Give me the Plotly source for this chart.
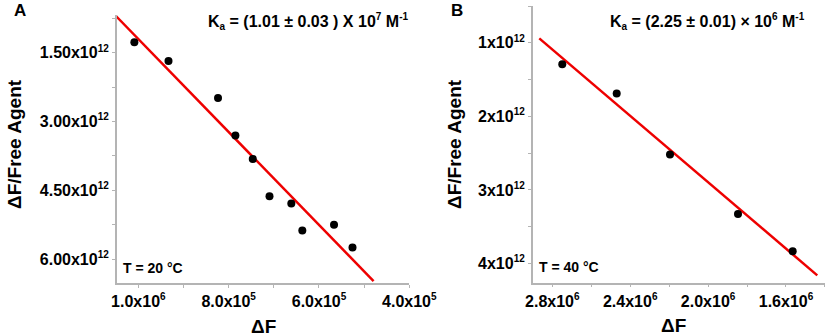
import plotly.graph_objects as go

W, H = 829, 336

# Panel A data
a_x = [1.0089e6, 0.9333e6, 0.8236e6, 0.7851e6, 0.7467e6, 0.7096e6, 0.6613e6, 0.6369e6, 0.5667e6, 0.5258e6]
a_y = [1.274e12, 1.680e12, 2.491e12, 3.304e12, 3.817e12, 4.630e12, 4.789e12, 5.376e12, 5.252e12, 5.746e12]
a_fit_x = [1.0496e6, 0.4791e6]
a_fit_y = [0.702e12, 6.478e12]
a_xticks = [1.0e6, 8.0e5, 6.0e5, 4.0e5]
a_xbase = ["1.0x10", "8.0x10", "6.0x10", "4.0x10"]
a_xexp = ["6", "5", "5", "5"]
a_yticks = [1.5e12, 3.0e12, 4.5e12, 6.0e12]
a_ybase = ["1.50x10", "3.00x10", "4.50x10", "6.00x10"]
a_yexp = ["12", "12", "12", "12"]

# Panel B data
b_x = [2.7487e6, 2.4693e6, 2.1956e6, 1.8465e6, 1.5656e6]
b_y = [1.290e12, 1.688e12, 2.518e12, 3.327e12, 3.834e12]
b_fit_x = [2.8668e6, 1.4393e6]
b_fit_y = [0.94e12, 4.16e12]
b_xticks = [2.8e6, 2.4e6, 2.0e6, 1.6e6]
b_xbase = ["2.8x10", "2.4x10", "2.0x10", "1.6x10"]
b_xexp = ["6", "6", "6", "6"]
b_yticks = [1e12, 2e12, 3e12, 4e12]
b_ybase = ["1x10", "2x10", "3x10", "4x10"]
b_yexp = ["12", "12", "12", "12"]

FONT = "Liberation Sans, Arial, sans-serif"
AXC = "#b4b4b4"


def sup(t, size=10):
    return f"<sup><span style='font-size:{size}px'>{t}</span></sup>"


def sub(t, size=10):
    return f"<sub><span style='font-size:{size}px'>{t}</span></sub>"


def labels(bases, exps):
    return [b + sup(e) for b, e in zip(bases, exps)]


fig = go.Figure()
fig.add_trace(go.Scatter(x=a_fit_x, y=a_fit_y, mode="lines", line=dict(color="#ee0000", width=2.5),
                         xaxis="x", yaxis="y", showlegend=False))
fig.add_trace(go.Scatter(x=a_x, y=a_y, mode="markers", marker=dict(color="black", size=8),
                         xaxis="x", yaxis="y", showlegend=False))
fig.add_trace(go.Scatter(x=b_fit_x, y=b_fit_y, mode="lines", line=dict(color="#ee0000", width=2.5),
                         xaxis="x2", yaxis="y2", showlegend=False))
fig.add_trace(go.Scatter(x=b_x, y=b_y, mode="markers", marker=dict(color="black", size=8),
                         xaxis="x2", yaxis="y2", showlegend=False))


def px(x):
    return x / W


def py(y):
    return 1 - y / H


tickfont = dict(family=FONT, size=16, color="black", weight="bold")


def axis_common():
    return dict(showline=True, linecolor=AXC, linewidth=1.5, ticks="outside", ticklen=3,
                tickcolor=AXC, tickwidth=1, showgrid=False, zeroline=False, automargin=False,
                tickmode="array", tickfont=tickfont, mirror=False)


fig.update_layout(
    width=W, height=H, margin=dict(l=0, r=0, t=0, b=0),
    plot_bgcolor="white", paper_bgcolor="white",
    xaxis=dict(**axis_common(), domain=[px(116.7), px(409.3)], range=[1.048e6, 4.0e5],
               tickvals=a_xticks, ticktext=labels(a_xbase, a_xexp), anchor="y",
               minor=dict(ticks="outside", ticklen=3, tickcolor=AXC, dtick=1e5, tick0=0)),
    yaxis=dict(**axis_common(), domain=[py(283), py(15)], range=[6.52e12, 0.68e12],
               tickvals=a_yticks, ticktext=labels(a_ybase, a_yexp), anchor="x",
               minor=dict(ticks="outside", ticklen=3, tickcolor=AXC, dtick=0.75e12, tick0=0)),
    xaxis2=dict(**axis_common(), domain=[px(532.7), px(825)], range=[2.9006e6, 1.3997e6],
                tickvals=b_xticks, ticktext=labels(b_xbase, b_xexp), anchor="y2",
                minor=dict(ticks="outside", ticklen=3, tickcolor=AXC, dtick=0.2e6, tick0=0)),
    yaxis2=dict(**axis_common(), domain=[py(282.7), py(6)], range=[4.26e12, 0.50e12],
                tickvals=b_yticks, ticktext=labels(b_ybase, b_yexp), anchor="x2",
                minor=dict(ticks="outside", ticklen=3, tickcolor=AXC, dtick=0.5e12, tick0=0)),
)


def ann(text, x, y, size, xanchor="center", textangle=0):
    fig.add_annotation(text=text, x=px(x), y=py(y), xref="paper", yref="paper",
                       showarrow=False, xanchor=xanchor, yanchor="middle", textangle=textangle,
                       font=dict(family=FONT, size=size, color="black", weight="bold"))


ann("A", 12, 11, 17, xanchor="left")
ann("B", 449, 11, 17, xanchor="left")
ann("K" + sub("a") + " = (1.01 ± 0.03 ) X 10" + sup("7") + " M" + sup("-1"), 308, 22, 16)
ann("K" + sub("a") + " = (2.25 ± 0.01) × 10" + sup("6") + " M" + sup("-1"), 707, 22, 16)
ann("T = 20 °C", 121, 268, 14, xanchor="left")
ann("T = 40 °C", 537, 267, 14, xanchor="left")
ann("ΔF", 263, 326, 19)
ann("ΔF", 673, 325, 19)
ann("ΔF/Free Agent", 14, 144, 19, textangle=-90)
ann("ΔF/Free Agent", 454, 144, 19, textangle=-90)

fig.write_html("out.html", config={"displayModeBar": False},
               post_script="document.body.style.margin='0';")
